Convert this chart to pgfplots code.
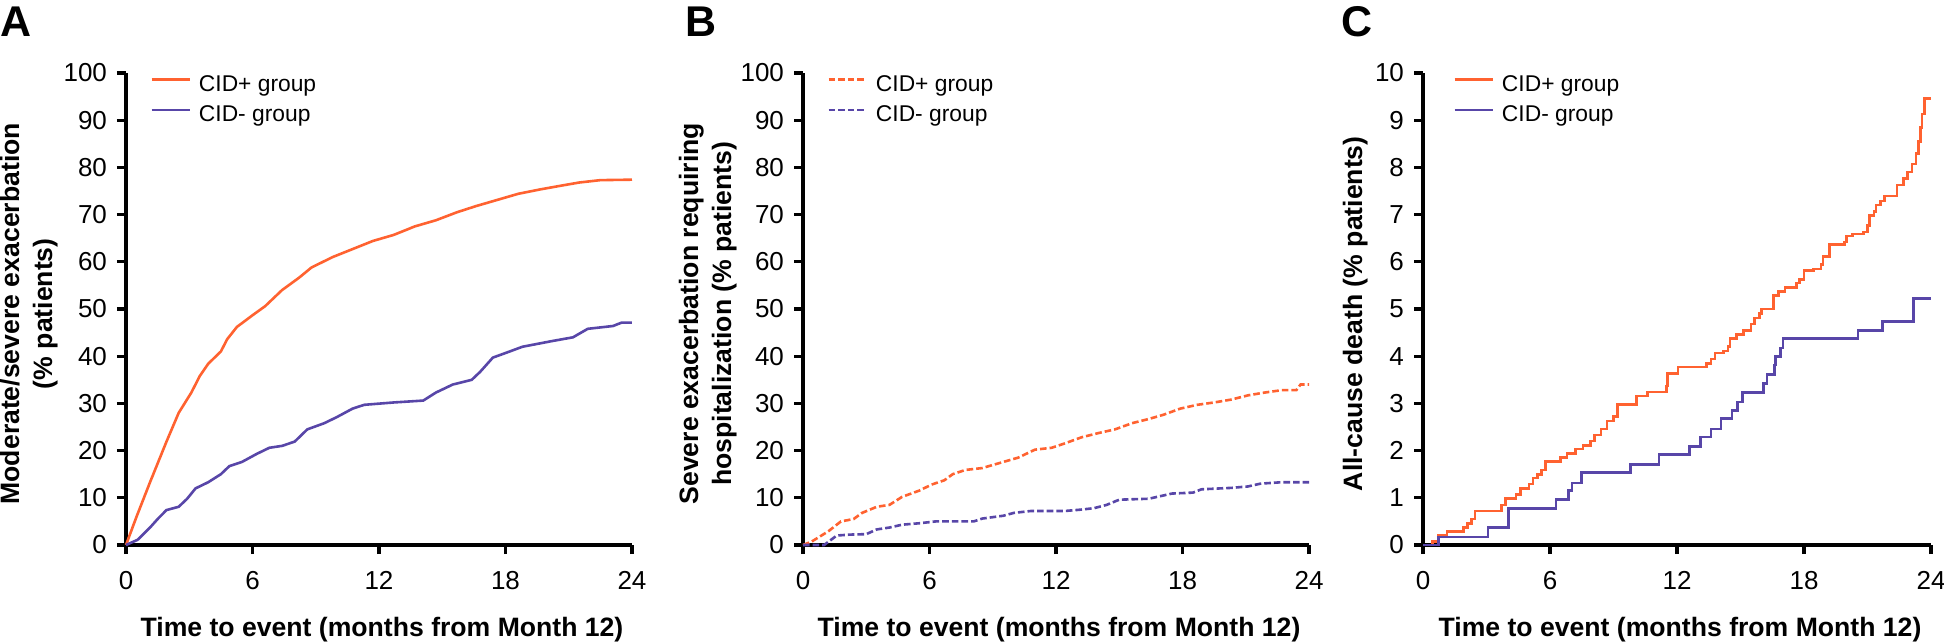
\documentclass[border=0pt]{standalone}
\usepackage{fontspec}
\setmainfont{Liberation Sans}
\usepackage{pgfplots}
\pgfplotsset{compat=1.18}
\definecolor{cidplus}{RGB}{255,98,48}
\definecolor{cidminus}{RGB}{88,70,168}

\pgfplotsset{
  kmpanel/.style={
    scale only axis, width=253pt, height=236pt,
    anchor=south west,
    axis lines=left, axis line style={-, line width=1.7pt},
    xmin=0, xmax=24, ymin=0,
    xtick={0,6,12,18,24},
    tick align=outside, major tick length=4.5pt,
    tick style={line width=1.6pt, black},
    tick label style={font=\fontsize{13}{15}\selectfont},
    /pgf/number format/assume math mode=true,
    xticklabel style={yshift=-5pt},
    yticklabel style={xshift=-1.5pt},
    xlabel={Time to event (months from Month 12)},
    xlabel style={font=\fontsize{13.3}{16}\selectfont\bfseries, at={(axis description cs:0.5,0)}, anchor=base, yshift=-45.5pt, xshift=1.5pt, inner sep=0pt},
    ylabel style={font=\fontsize{13.3}{16.5}\selectfont\bfseries, align=center, anchor=south, inner sep=0pt},
    legend style={anchor=north west, draw=none, fill=none, inner sep=0pt,
      font=\fontsize{11.4}{13}\selectfont, row sep=4.3pt, column sep=4pt,
      nodes={inner sep=0pt, text height=8.5pt, text depth=2.5pt}},
    legend cell align=left,
    legend image code/.code={\draw[##1] (0pt,3pt) -- (19pt,3pt);},
    clip=false,
  },
  plus/.style={cidplus, line width=1.3pt},
  minus/.style={cidminus, line width=1.3pt},
}

\begin{document}
\begin{tikzpicture}
\useasboundingbox (0pt,0pt) rectangle (972pt,-321pt);

% ---------- A ----------
\node[anchor=base west, inner sep=0pt, font=\fontsize{21.5}{24}\selectfont\bfseries] at (0pt,-18.5pt) {A};
\begin{axis}[kmpanel, at={(63pt,-272.5pt)},
  ymax=100, ytick={0,10,...,100},
  ylabel={Moderate/severe exacerbation\\(\% patients)},
  ylabel style={at={(axis description cs:-0.1344,0.49)}},
  legend style={at={(axis description cs:0.0474,0.998)}},
]
\addplot[plus] coordinates {
(0,0) (0.5,6) (1.14,13.3) (1.92,21.9) (2.5,28) (3.1,32.3) (3.5,35.8) (3.9,38.4)
(4.5,41) (4.8,43.6) (5.26,46.2) (6.04,48.8) (6.6,50.6) (7.4,54) (8.2,56.6)
(8.8,58.8) (9.8,61) (10.75,62.7) (11.7,64.4) (12.7,65.7) (13.7,67.5) (14.7,68.8)
(15.7,70.5) (16.6,71.8) (17.6,73.1) (18.6,74.4) (19.6,75.3) (20.6,76.1)
(21.5,76.8) (22.5,77.3) (24,77.4)
};
\addlegendentry{CID+ group}
\addplot[minus] coordinates {
(0,0) (0.55,1.1) (1.14,3.7) (1.5,5.5) (1.92,7.4) (2.5,8.1) (2.9,9.8) (3.3,12)
(3.9,13.3) (4.5,15) (4.9,16.7) (5.5,17.6) (6.2,19.3) (6.8,20.6) (7.4,21)
(8.0,21.9) (8.6,24.5) (9.4,25.8) (10,27.1) (10.75,28.9) (11.3,29.7) (12.7,30.2)
(14.1,30.6) (14.7,32.3) (15.5,34) (16.4,35) (16.8,36.7) (17.4,39.7) (18.2,41)
(18.8,42) (20.2,43.2) (21.2,44) (21.9,45.8) (23.1,46.4) (23.5,47.1) (24,47.1)
};
\addlegendentry{CID- group}
\end{axis}

% ---------- B ----------
\node[anchor=base west, inner sep=0pt, font=\fontsize{21.5}{24}\selectfont\bfseries] at (342.5pt,-18.5pt) {B};
\begin{axis}[kmpanel, at={(401.5pt,-272.5pt)},
  ymax=100, ytick={0,10,...,100},
  ylabel={Severe exacerbation requiring\\hospitalization (\% patients)},
  ylabel style={at={(axis description cs:-0.1304,0.49)}},
  legend style={at={(axis description cs:0.0474,0.998)}},
]
\addplot[plus, dash pattern=on 3.3pt off 1.5pt] coordinates {
(0,0) (0.4,0.7) (1.2,2.9) (1.8,5) (2.4,5.5) (2.8,6.8) (3.5,8.1) (4.1,8.5)
(4.7,10.2) (5.5,11.5) (6.1,12.8) (6.7,13.7) (7.1,15) (7.7,15.9) (8.5,16.3)
(9.5,17.6) (10.2,18.5) (11,20.2) (11.8,20.6) (12.4,21.5) (13.2,22.8) (14,23.7)
(14.8,24.5) (15.6,25.8) (16.4,26.7) (17.1,27.6) (17.9,28.9) (18.7,29.7)
(19.5,30.2) (20.3,30.8) (21.1,31.7) (21.9,32.3) (22.7,32.8) (23.4,32.8)
(23.6,34) (24,34)
};
\addlegendentry{CID+ group}
\addplot[minus, dash pattern=on 3.3pt off 1.5pt] coordinates {
(0,0) (1.0,0) (1.6,2.0) (2.2,2.2) (3.0,2.3) (3.5,3.3) (4.1,3.7) (4.7,4.3)
(5.5,4.6) (6.3,5) (8.1,5) (8.5,5.6) (9.5,6.2) (10,6.8) (10.8,7.2) (12.4,7.2)
(13.2,7.5) (13.8,7.8) (14.4,8.5) (15,9.6) (16.4,9.8) (17,10.4) (17.5,10.9)
(18.5,11.1) (18.9,11.8) (20.3,12.1) (21.1,12.4) (21.7,13) (22.7,13.3) (24,13.3)
};
\addlegendentry{CID- group}
\end{axis}

% ---------- C ----------
\node[anchor=base west, inner sep=0pt, font=\fontsize{21.5}{24}\selectfont\bfseries] at (670.75pt,-18.5pt) {C};
\begin{axis}[kmpanel, at={(711.5pt,-272.5pt)}, width=254pt,
  ymax=10, ytick={0,1,...,10},
  ylabel={All-cause death (\% patients)},
  ylabel style={at={(axis description cs:-0.1083,0.49)}},
  legend style={at={(axis description cs:0.059,0.998)}},
]
\addplot[plus, const plot] coordinates {
(0,0) (0.45,0.07) (0.74,0.2) (1.13,0.29) (1.9,0.37) (2.1,0.46) (2.3,0.55)
(2.45,0.72) (3.7,0.85) (3.9,0.98) (4.4,1.07) (4.6,1.2) (5.0,1.29) (5.2,1.42)
(5.4,1.5) (5.6,1.59) (5.8,1.77) (6.5,1.85) (6.8,1.94) (7.2,2.03) (7.55,2.11)
(7.9,2.2) (8.1,2.33) (8.4,2.46) (8.7,2.63) (9.0,2.72) (9.2,2.98) (10.1,3.16)
(10.6,3.24) (11.5,3.37) (11.55,3.63) (12.05,3.77) (13.4,3.85) (13.6,3.94)
(13.8,4.07) (14.2,4.11) (14.4,4.2) (14.5,4.37) (14.8,4.46) (15.15,4.55)
(15.5,4.68) (15.65,4.81) (15.9,4.9) (16.0,5.0) (16.55,5.29) (16.8,5.37)
(17.1,5.46) (17.65,5.55) (17.8,5.63) (18.0,5.81) (18.45,5.85) (18.8,5.94)
(18.9,6.11) (19.2,6.37) (19.9,6.42) (20.0,6.55) (20.3,6.59) (20.8,6.63)
(21.0,6.77) (21.1,6.98) (21.3,7.07) (21.4,7.2) (21.6,7.29) (21.8,7.39)
(22.4,7.63) (22.7,7.77) (22.9,7.9) (23.1,8.07) (23.3,8.29) (23.4,8.55)
(23.5,8.85) (23.57,9.13) (23.7,9.46) (24,9.46)
};
\addlegendentry{CID+ group}
\addplot[minus, const plot] coordinates {
(0,0) (0.74,0.17) (3.07,0.37) (4.05,0.77) (6.29,0.97) (6.87,1.16) (7.03,1.31)
(7.5,1.53) (9.79,1.70) (11.15,1.92) (12.6,2.09) (13.1,2.29) (13.6,2.46)
(14.07,2.68) (14.6,2.85) (14.85,3.03) (15.1,3.23) (16.1,3.42) (16.25,3.61)
(16.6,3.81) (16.64,4.0) (16.9,4.17) (17.0,4.37) (20.55,4.55) (21.7,4.74)
(23.16,5.22) (24,5.22)
};
\addlegendentry{CID- group}
\end{axis}
\end{tikzpicture}
\end{document}
